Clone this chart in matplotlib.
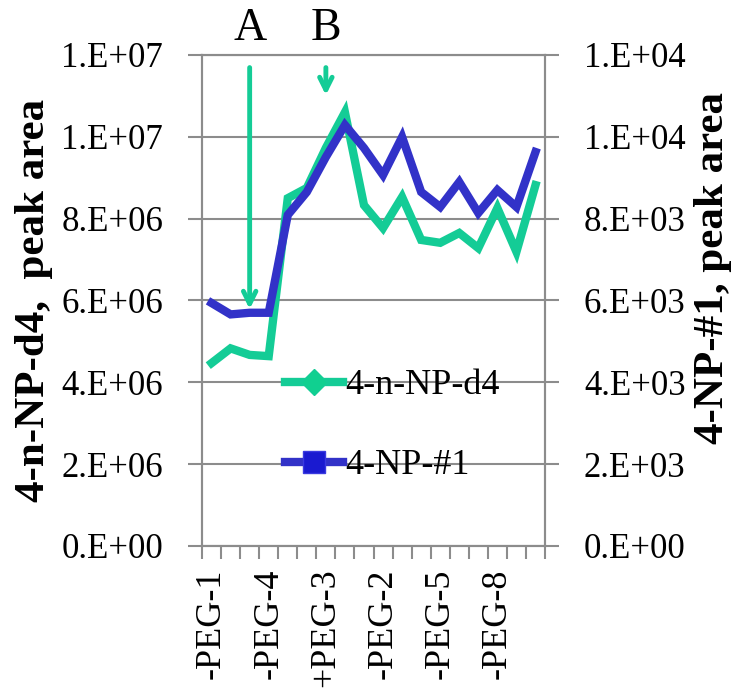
import numpy as np
import matplotlib
matplotlib.use("Agg")
import matplotlib.pyplot as plt
from matplotlib.lines import Line2D
from matplotlib.ticker import FuncFormatter

plt.rcParams['font.family'] = ['Liberation Serif', 'DejaVu Serif']

# peak areas, 18 samples
d4_area = [4.47e6, 4.83e6, 4.67e6, 4.64e6, 8.50e6, 8.75e6, 9.73e6, 10.60e6, 8.33e6,
           7.77e6, 8.53e6, 7.48e6, 7.41e6, 7.65e6, 7.28e6, 8.26e6, 7.19e6, 8.82e6]
np1_area = [5939, 5660, 5700, 5700, 8090, 8652, 9507, 10289, 9727,
            9067, 9996, 8652, 8285, 8896, 8138, 8700, 8285, 9629]
shown_labels = ["-PEG-1", "-PEG-4", "+PEG-3", "-PEG-2", "-PEG-5", "-PEG-8"]
label_every = 3

green = '#14CC96'
blue = '#3232C8'
gray = '#8C8C8C'

x = np.arange(len(d4_area))

fig = plt.figure(figsize=(7.4, 6.9), dpi=100)
ax = fig.add_axes([0.273, 0.2087, 0.4635, 0.7116])
ax2 = ax.twinx()

ax.plot(x, d4_area, color=green, lw=6, solid_joinstyle='miter', zorder=3)
ax2.plot(x, np1_area, color=blue, lw=6, solid_joinstyle='miter', zorder=3)

ax.set_xlim(-0.5, len(x) - 0.5)
ax.set_ylim(0, 1.2e7)
ax2.set_ylim(0, 1.2e4)
ax.set_yticks(np.arange(0, 1.21e7, 2e6))
ax2.set_yticks(np.arange(0, 1.21e4, 2e3))

def sci(v, pos):
    if v == 0:
        return "0.E+00"
    e = int(np.floor(np.log10(v)))
    return "%d.E+%02d" % (int(v / 10 ** e), e)

ax.yaxis.set_major_formatter(FuncFormatter(sci))
ax2.yaxis.set_major_formatter(FuncFormatter(sci))

ax.grid(axis='y', color=gray, lw=1.5)
ax.set_axisbelow(True)

ax.set_xticks(x[::label_every])
ax.set_xticklabels(shown_labels, rotation=90, fontsize=26)
ax.set_xticks(np.arange(-0.5, len(x), 1), minor=True)
ax.tick_params(axis='x', which='major', length=0, pad=16)
ax.tick_params(axis='x', which='minor', length=9, width=1.5, color=gray, direction='out')
ax.tick_params(axis='y', labelsize=25, length=10, width=1.5, color=gray, pad=18)
ax2.tick_params(axis='y', labelsize=25, length=10, width=1.5, color=gray, pad=18)

for a in (ax, ax2):
    for s in a.spines.values():
        s.set_color(gray)
        s.set_linewidth(1.5)

ax.set_ylabel("4-n-NP-d4,  peak area", fontsize=31, fontweight='bold', labelpad=6)
ax2.set_ylabel("4-NP-#1, peak area", fontsize=31, fontweight='bold', labelpad=6, y=0.566)

# arrows A and B
arrow_style = dict(arrowstyle='->,head_width=0.45,head_length=0.9', color=green, lw=3.5)
ax.annotate("", xy=(2, 5.72e6), xytext=(2, 11.76e6), arrowprops=arrow_style, zorder=4)
ax.annotate("", xy=(6, 10.95e6), xytext=(6, 11.76e6), arrowprops=arrow_style, zorder=4)
ax.text(2, 12.65e6, "A", ha='center', va='center', fontsize=33, clip_on=False)
ax.text(6, 12.65e6, "B", ha='center', va='center', fontsize=33, clip_on=False)

handles = [
    Line2D([], [], color=green, lw=6, marker='D', markersize=13,
           markerfacecolor='#10D090', markeredgecolor=green),
    Line2D([], [], color=blue, lw=6, marker='s', markersize=16,
           markerfacecolor='#1A1AD0', markeredgecolor='#3A3AE0'),
]
ax2.legend(handles, ["4-n-NP-d4", "4-NP-#1"], loc='center left',
           bbox_to_anchor=(0.19, 0.245), frameon=False, fontsize=26,
           handlelength=1.6, handletextpad=0.05, labelspacing=1.3,
           borderpad=0)

fig.savefig("out.png", dpi=100)
